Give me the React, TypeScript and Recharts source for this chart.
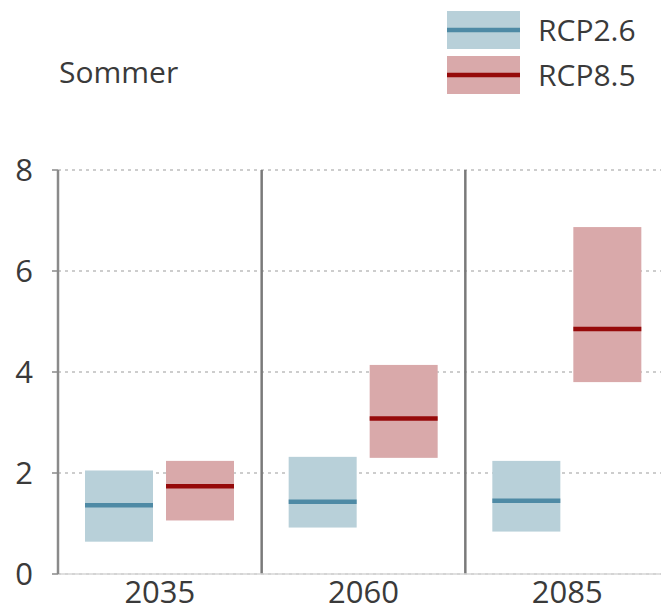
import React from "react"
import {
  Bar,
  BarChart,
  CartesianGrid,
  ReferenceLine,
  XAxis,
  YAxis,
} from "recharts"

const years = ["2035", "2060", "2085"]

const rcp26Low = [0.64, 0.92, 0.84]
const rcp26High = [2.05, 2.32, 2.24]
const rcp26Median = [1.36, 1.43, 1.45]

const rcp85Low = [1.06, 2.3, 3.8]
const rcp85High = [2.24, 4.14, 6.87]
const rcp85Median = [1.74, 3.08, 4.85]

const yTicks = [0, 2, 4, 6, 8]
// a separator line is drawn at the start of each of these bands
const separators = ["2060", "2085"]

const title = "Sommer"

const series = [
  { key: "rcp26", name: "RCP2.6", fill: "#b8d0d9", line: "#4e8aa5" },
  { key: "rcp85", name: "RCP8.5", fill: "#d9a9aa", line: "#960a0a" },
]

const data = years.map((year, i) => ({
  year,
  rcp26: [rcp26Low[i], rcp26High[i]],
  rcp26Median: rcp26Median[i],
  rcp85: [rcp85Low[i], rcp85High[i]],
  rcp85Median: rcp85Median[i],
}))

const FONT = "'Open Sans', 'Noto Sans', sans-serif"
const TEXT = "#3a3a3a"

function makeBox(key: string, fill: string, line: string) {
  return (props: any) => {
    const { x, y, width, height, payload } = props
    const [lo, hi] = payload[key]
    const med = payload[key + "Median"]
    const top = Math.min(y, y + height)
    const h = Math.abs(height)
    const my = top + (h * (hi - med)) / (hi - lo)
    return (
      <g>
        <rect x={x} y={top} width={width} height={h} fill={fill} />
        <line x1={x} x2={x + width} y1={my} y2={my} stroke={line} strokeWidth={4.5} />
      </g>
    )
  }
}

function LegendBox() {
  return (
    <div style={{ position: "absolute", left: 447, top: 11 }}>
      {series.map((s) => (
        <div key={s.key} style={{ display: "flex", alignItems: "center", height: 38, marginBottom: 7 }}>
          <svg width={73} height={38}>
            <rect x={0} y={0} width={73} height={38} fill={s.fill} />
            <line x1={0} x2={73} y1={19} y2={19} stroke={s.line} strokeWidth={4.5} />
          </svg>
          <span style={{ fontFamily: FONT, fontSize: 30, color: TEXT, marginLeft: 18, lineHeight: "38px" }}>
            {s.name}
          </span>
        </div>
      ))}
    </div>
  )
}

export default function App() {
  return (
    <div
      style={{
        position: "absolute",
        left: 0,
        top: 0,
        width: 661,
        height: 613,
        overflow: "hidden",
        background: "#fff",
      }}
    >
      <div
        style={{
          position: "absolute",
          left: 59,
          top: 52,
          fontFamily: FONT,
          fontSize: 30,
          color: TEXT,
          lineHeight: "40px",
        }}
      >
        {title}
      </div>
      <LegendBox />
      <div style={{ position: "absolute", left: 0, top: 0 }}>
        <BarChart
          width={669}
          height={613}
          data={data}
          margin={{ top: 170, right: 0, bottom: 0, left: 0 }}
          barGap={13}
          barSize={68}
        >
          <CartesianGrid
            xAxisId="cat"
            vertical={false}
            stroke="#bdbdbd"
            strokeDasharray="3 4"
            strokeWidth={1.5}
          />
          <XAxis
            xAxisId="cat"
            dataKey="year"
            height={39}
            tickLine={false}
            tickSize={6}
            tickMargin={1}
            axisLine={{ stroke: "#d6d6d6", strokeWidth: 1.5 }}
            tick={{ fontFamily: FONT, fontSize: 31, fill: TEXT }}
          />
          <YAxis
            width={58}
            domain={[0, 8]}
            ticks={yTicks}
            interval={0}
            tickSize={6}
            tickMargin={19}
            axisLine={{ stroke: "#8a8a8a", strokeWidth: 2.5 }}
            tickLine={{ stroke: "#8a8a8a", strokeWidth: 1.5 }}
            tick={{ fontFamily: FONT, fontSize: 31, fill: TEXT }}
          />
          {separators.map((s) => (
            <ReferenceLine
              key={s}
              xAxisId="cat"
              x={s}
              position="start"
              stroke="#7a7a7a"
              strokeWidth={2.5}
            />
          ))}
          {series.map((s) => (
            <Bar
              key={s.key}
              xAxisId="cat"
              dataKey={s.key}
              name={s.name}
              fill={s.fill}
              isAnimationActive={false}
              shape={makeBox(s.key, s.fill, s.line)}
            />
          ))}
        </BarChart>
      </div>
    </div>
  )
}
